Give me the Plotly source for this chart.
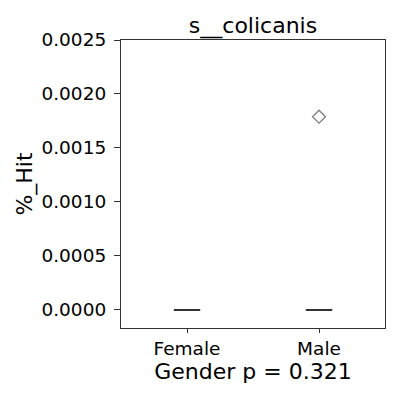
import plotly.graph_objects as go

categories = ["Female", "Male"]
female_values = [0.0] * 12
male_values = [0.0] * 11 + [0.00179]
title_text = "s__colicanis"
y_label = "%_Hit"
x_label = "Gender p = 0.321"
y_ticks = [0.0, 0.0005, 0.0010, 0.0015, 0.0020, 0.0025]
y_tick_text = ["0.0000", "0.0005", "0.0010", "0.0015", "0.0020", "0.0025"]

xs = [categories[0]] * len(female_values) + [categories[1]] * len(male_values)
ys = female_values + male_values

fig = go.Figure()
fig.add_trace(go.Box(
    x=xs, y=ys,
    boxpoints="outliers",
    width=0.2,
    fillcolor="rgba(0,0,0,0)",
    line=dict(color="#333333", width=2),
    marker=dict(symbol="diamond-open", color="#7f7f7f", size=10, line=dict(width=1.3, color="#7f7f7f")),
    showlegend=False,
))

fig.update_layout(
    width=392, height=392,
    margin=dict(l=113, r=15, t=32, b=72),
    paper_bgcolor="white", plot_bgcolor="white",
    font=dict(family="DejaVu Sans", color="black"),
    title=dict(text=title_text, x=0.625, xanchor="center", y=0.957, yanchor="middle",
               font=dict(size=22)),
    xaxis=dict(
        type="category", range=[-0.5, 1.5], automargin=False,
        showline=True, linecolor="#333333", linewidth=1.2, mirror=True,
        ticks="outside", ticklen=4, tickcolor="#333333",
        tickfont=dict(size=18.5),
        title=dict(text=x_label, font=dict(size=22), standoff=2),
        showgrid=False, zeroline=False,
    ),
    yaxis=dict(
        range=[-0.000167, 0.0025], automargin=False,
        tickvals=y_ticks, ticktext=y_tick_text,
        showline=True, linecolor="#333333", linewidth=1.2, mirror=True,
        ticks="outside", ticklen=6, tickcolor="#333333",
        ticklabelstandoff=4,
        tickfont=dict(size=18.5),
        title=dict(text=y_label, font=dict(size=22), standoff=2),
        showgrid=False, zeroline=False,
    ),
)

fig.write_html("out.html")
